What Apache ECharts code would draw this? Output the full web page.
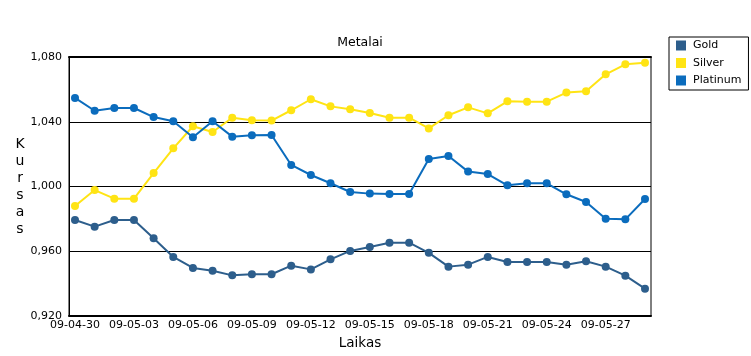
<!DOCTYPE html>
<html>
<head>
<meta charset="utf-8">
<script src="https://cdn.jsdelivr.net/npm/echarts@6/dist/echarts.min.js"></script>
<style>
html,body{margin:0;padding:0;background:#fff;}
#chart{width:751px;height:356px;}
</style>
</head>
<body>
<div id="chart"></div>
<script>
var categories = ['09-04-30','09-05-01','09-05-02','09-05-03','09-05-04','09-05-05','09-05-06','09-05-07','09-05-08','09-05-09',
  '09-05-10','09-05-11','09-05-12','09-05-13','09-05-14','09-05-15','09-05-16','09-05-17','09-05-18','09-05-19',
  '09-05-20','09-05-21','09-05-22','09-05-23','09-05-24','09-05-25','09-05-26','09-05-27','09-05-28','09-05-29'];
var gold = [979.3, 975.2, 979.3, 979.3, 968.0, 956.5, 949.7, 948.0, 945.1, 945.8,
  945.8, 951.1, 948.8, 955.0, 960.2, 962.6, 965.3, 965.3, 959.0, 950.5,
  951.7, 956.5, 953.4, 953.4, 953.4, 951.7, 953.8, 950.5, 944.9, 936.9];
var silver = [988.0, 997.8, 992.5, 992.5, 1008.3, 1023.6, 1037.2, 1033.7, 1042.5, 1040.9,
  1040.7, 1047.1, 1053.9, 1049.5, 1047.7, 1045.4, 1042.5, 1042.5, 1035.9, 1044.0,
  1048.9, 1045.2, 1052.6, 1052.4, 1052.4, 1058.0, 1058.8, 1069.3, 1075.5, 1076.5];
var platinum = [1054.7, 1046.8, 1048.5, 1048.5, 1042.9, 1040.3, 1030.4, 1040.3, 1030.8, 1031.7,
  1031.8, 1013.3, 1007.1, 1002.0, 996.6, 995.6, 995.4, 995.4, 1017.0, 1018.8,
  1009.2, 1007.7, 1000.7, 1002.0, 1002.0, 995.2, 990.4, 980.1, 979.7, 992.3];
var seriesNames = ['Gold', 'Silver', 'Platinum'];
var seriesColors = ['#2d5e8c', '#ffe414', '#0b6cbd'];
var yMin = 920, yMax = 1080, yStep = 40;
var title = 'Metalai';
var xName = 'Laikas';
var yName = 'Kursas';

var FONT = '"DejaVu Sans", Verdana, sans-serif';
function fmtY(v) {
  var th = Math.floor(v / 1000), rest = String(Math.round(v % 1000));
  while (rest.length < 3) rest = '0' + rest;
  return th + ',' + rest;
}

var chart = echarts.init(document.getElementById('chart'), null, {renderer: 'canvas'});
var dataSets = [gold, silver, platinum];
chart.setOption({
  animation: false,
  backgroundColor: '#fff',
  textStyle: {fontFamily: FONT},
  title: {
    text: title, left: 360, top: 36, textAlign: 'center', padding: 0,
    textStyle: {fontFamily: FONT, fontSize: 12.5, fontWeight: 'normal', color: '#000'}
  },
  legend: {
    orient: 'vertical', left: 669, top: 37,
    padding: [3, 7, 4, 7], itemGap: 6.5,
    itemWidth: 10, itemHeight: 10, icon: 'rect',
    borderColor: '#000', borderWidth: 1,
    data: seriesNames,
    textStyle: {fontFamily: FONT, fontSize: 11, color: '#000', padding: [0, 0, 0, 2]}
  },
  grid: [
    {left: 69, top: 57, width: 582, height: 259, show: true, borderColor: '#000', borderWidth: 1, backgroundColor: 'transparent'},
    {left: 75, top: 57, width: 570, height: 259}
  ],
  xAxis: [
    {gridIndex: 0, type: 'value', min: 0, max: 1, position: 'bottom',
     axisLine: {show: true, lineStyle: {color: '#000', width: 2}}, axisTick: {show: false},
     axisLabel: {show: false}, splitLine: {show: false}},
    {gridIndex: 0, type: 'value', min: 0, max: 1, position: 'top',
     axisLine: {show: true, lineStyle: {color: '#000', width: 2}}, axisTick: {show: false},
     axisLabel: {show: false}, splitLine: {show: false}},
    {gridIndex: 1, type: 'category', data: categories, boundaryGap: false,
     axisLine: {show: false}, axisTick: {show: false}, splitLine: {show: false},
     axisLabel: {interval: 2, color: '#000', fontFamily: FONT, fontSize: 11, margin: 4},
     name: xName, nameLocation: 'middle', nameGap: 27,
     nameTextStyle: {fontFamily: FONT, fontSize: 13.5, color: '#000', verticalAlign: 'middle'}}
  ],
  yAxis: [
    {gridIndex: 0, type: 'value', min: yMin, max: yMax, interval: yStep,
     axisLine: {show: true, lineStyle: {color: '#000', width: 1}}, axisTick: {show: false},
     splitLine: {show: true, lineStyle: {color: '#000', width: 1}},
     axisLabel: {color: '#000', fontFamily: FONT, fontSize: 11, margin: 7, formatter: fmtY},
     name: yName.split('').join('\n'), nameLocation: 'middle', nameRotate: 0, nameGap: 47.5,
     nameTextStyle: {fontFamily: FONT, fontSize: 14, lineHeight: 17, color: '#000', align: 'center', verticalAlign: 'middle', padding: [4, 0, 0, 0]}},
    {gridIndex: 1, type: 'value', min: yMin, max: yMax, show: false, splitLine: {show: false}}
  ],
  series: dataSets.map(function (d, i) {
    return {
      name: seriesNames[i], type: 'line', xAxisIndex: 2, yAxisIndex: 1,
      data: d, symbol: 'circle', symbolSize: 8, showSymbol: true,
      color: seriesColors[i],
      lineStyle: {width: 2, color: seriesColors[i]},
      itemStyle: {color: seriesColors[i]},
      z: 3 + i
    };
  })
});
</script>
</body>
</html>
